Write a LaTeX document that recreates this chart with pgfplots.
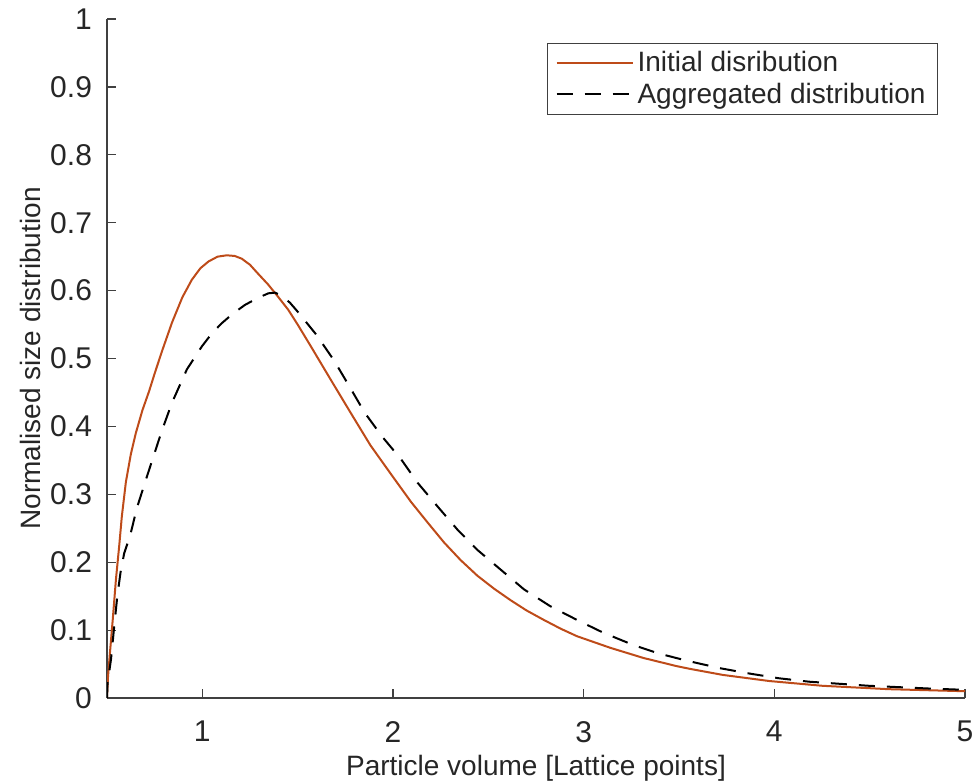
\documentclass[border=0pt]{standalone}
\usepackage{pgfplots}
\pgfplotsset{compat=1.18}
\usepackage{fontspec}
\setmainfont{Liberation Sans}
\definecolor{txt}{RGB}{38,38,38}
\definecolor{axc}{RGB}{64,64,64}
\definecolor{matorange}{RGB}{190,75,25}
\newcommand\lab{\fontsize{14pt}{16pt}\selectfont}
\newcommand\tlab{\fontsize{15pt}{17pt}\selectfont}
\begin{document}
\begin{tikzpicture}
\path[use as bounding box] (-53.5pt,-42.5pt) rectangle (433pt,349pt);
\begin{axis}[
  at={(0,0)}, anchor=south west,
  scale only axis, width=429pt, height=339.5pt,
  xmin=0.5, xmax=5, ymin=0, ymax=1,
  axis x line=bottom, axis y line=left,
  axis line style={-, axc, line width=0.6pt},
  tick style={axc, line width=0.6pt},
  major tick length=4.5pt, tick align=inside,
  xtick={1,2,3,4,5},
  ytick={0,0.1,0.2,0.3,0.4,0.5,0.6,0.7,0.8,0.9,1},
  yticklabels={0,0.1,0.2,0.3,0.4,0.5,0.6,0.7,0.8,0.9,1},
  /pgf/number format/assume math mode=true,
  ticklabel style={font=\tlab, text=txt},
  xticklabel style={yshift=-8pt},
  yticklabel style={xshift=-4pt},
  xlabel={Particle volume [Lattice points]},
  ylabel={Normalised size distribution},
  label style={font=\lab, text=txt},
  xlabel style={at={(axis description cs:0.5,-0.104)}, anchor=center},
  ylabel style={at={(axis description cs:-0.0897,0.5)}, anchor=center},
  legend style={at={(axis description cs:0.9685,0.9647)}, anchor=north east,
    draw=axc, line width=0.5pt, font=\lab, text=txt, inner xsep=4pt, inner ysep=2pt,
    row sep=0pt},
  legend cell align=left,
  legend image code/.code={\draw[#1] (0pt,0pt) -- (38pt,0pt);},
]
\addplot[matorange, line width=1pt] coordinates {
(0.5,0.0) (0.505,0.03) (0.515,0.065) (0.53,0.115) (0.547,0.175) (0.564,0.224)
(0.578,0.268) (0.599,0.318) (0.625,0.359) (0.651,0.390) (0.686,0.424) (0.721,0.452)
(0.75,0.478) (0.790,0.512) (0.841,0.553) (0.895,0.590) (0.945,0.616) (0.99,0.633)
(1.033,0.643) (1.08,0.650) (1.128,0.652) (1.17,0.651) (1.207,0.647) (1.25,0.638)
(1.292,0.625) (1.345,0.609) (1.397,0.591) (1.45,0.572) (1.50,0.550) (1.569,0.518)
(1.673,0.469) (1.778,0.420) (1.882,0.372) (2.004,0.324) (2.094,0.289) (2.18,0.259)
(2.268,0.229) (2.355,0.203) (2.443,0.180) (2.53,0.161) (2.617,0.144) (2.70,0.129)
(2.791,0.115) (2.88,0.102) (2.965,0.091) (3.139,0.074) (3.313,0.059) (3.487,0.047)
(3.556,0.043) (3.730,0.034) (3.974,0.025) (4.252,0.018) (4.600,0.013) (5.0,0.010)
};
\addlegendentry{Initial disribution}
\addplot[black, line width=1pt, dash pattern=on 8pt off 6pt] coordinates {
(0.5,0.0) (0.503,0.022) (0.521,0.057) (0.538,0.106) (0.554,0.150) (0.571,0.185)
(0.59,0.213) (0.622,0.240) (0.657,0.280) (0.700,0.318) (0.744,0.356) (0.787,0.393)
(0.841,0.435) (0.919,0.484) (0.998,0.518) (1.05,0.537) (1.102,0.552)
(1.16,0.566) (1.224,0.579) (1.29,0.589) (1.346,0.596) (1.381,0.597) (1.42,0.592)
(1.46,0.582) (1.50,0.569) (1.598,0.535) (1.691,0.497) (1.769,0.460) (1.852,0.420)
(1.943,0.385) (2.044,0.351) (2.129,0.317) (2.234,0.282) (2.338,0.248) (2.443,0.218)
(2.565,0.189) (2.687,0.160) (2.826,0.135) (2.965,0.115) (3.104,0.096) (3.261,0.078)
(3.40,0.065) (3.556,0.054) (3.713,0.044) (3.870,0.036) (4.026,0.029) (4.183,0.024)
(4.339,0.021) (4.496,0.018) (4.652,0.016) (4.809,0.014) (5.0,0.012)
};
\addlegendentry{Aggregated distribution}
\end{axis}
\end{tikzpicture}
\end{document}
